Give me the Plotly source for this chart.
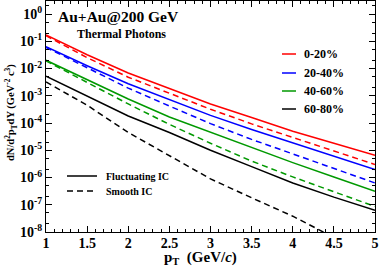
import plotly.graph_objects as go

pt = [1.0, 1.5, 2.0, 2.5, 3.0, 3.5, 4.0, 4.5, 5.0]

red_fluct = [1.7e-1, 3.2e-2, 6.8e-3, 1.8e-3, 5.0e-4, 1.6e-4, 5.0e-5, 1.8e-5, 6.6e-6]
red_smooth = [1.6e-1, 2.5e-2, 4.8e-3, 1.2e-3, 3.2e-4, 9.3e-5, 2.9e-5, 9.3e-6, 3.0e-6]
blue_fluct = [6.3e-2, 1.26e-2, 2.75e-3, 7.1e-4, 1.9e-4, 5.8e-5, 1.86e-5, 6.0e-6, 1.95e-6]
blue_smooth = [6.0e-2, 1.05e-2, 1.9e-3, 4.2e-4, 9.5e-5, 2.5e-5, 7.2e-6, 2.1e-6, 6.3e-7]
green_fluct = [2.0e-2, 3.8e-3, 7.6e-4, 1.66e-4, 4.5e-5, 1.26e-5, 3.5e-6, 1.05e-6, 3.1e-7]
green_smooth = [1.9e-2, 3.0e-3, 5.0e-4, 8.9e-5, 1.8e-5, 4.0e-6, 1.05e-6, 3.0e-7, 8.7e-8]
black_fluct = [5.2e-3, 1.0e-3, 1.8e-4, 4.5e-5, 1.0e-5, 2.5e-6, 6.3e-7, 1.9e-7, 6.3e-8]
black_smooth = [3.2e-3, 4.5e-4, 4.5e-5, 6.3e-6, 8.9e-7, 1.8e-7, 3.8e-8, 6.3e-9, 1.0e-9]

centralities = ["0-20%", "20-40%", "40-60%", "60-80%"]
colors = ["#ff0000", "#0000ff", "#009900", "#000000"]
fluct = [red_fluct, blue_fluct, green_fluct, black_fluct]
smooth = [red_smooth, blue_smooth, green_smooth, black_smooth]

xticks = [1, 1.5, 2, 2.5, 3, 3.5, 4, 4.5, 5]
xticklabels = ["1", "1.5", "2", "2.5", "3", "3.5", "4", "4.5", "5"]
yticks = [1e0, 1e-1, 1e-2, 1e-3, 1e-4, 1e-5, 1e-6, 1e-7, 1e-8]
yticklabels = ["10<sup>0</sup>", "10<sup>-1</sup>", "10<sup>-2</sup>", "10<sup>-3</sup>",
               "10<sup>-4</sup>", "10<sup>-5</sup>", "10<sup>-6</sup>", "10<sup>-7</sup>",
               "10<sup>-8</sup>"]

SERIF = "Liberation Serif"

fig = go.Figure()
for c, f, s, name in zip(colors, fluct, smooth, centralities):
    fig.add_trace(go.Scatter(x=pt, y=f, mode="lines", line=dict(color=c, width=1.5),
                             name=name, showlegend=False))
    fig.add_trace(go.Scatter(x=pt, y=s, mode="lines",
                             line=dict(color=c, width=1.5, dash="6px,4px"),
                             name=name + " smooth", showlegend=False))

axis_common = dict(showline=True, linecolor="black", linewidth=1, mirror="ticks",
                   ticks="inside", tickcolor="black", showgrid=False, zeroline=False,
                   automargin=False,
                   tickfont=dict(family=SERIF, size=14, color="black", weight="bold"))

fig.update_xaxes(range=[1, 5], tickvals=xticks, ticktext=xticklabels, ticklen=6,
                 ticklabelstandoff=-2,
                 minor=dict(dtick=0.1, ticks="inside", ticklen=3, tickcolor="black"),
                 **axis_common)
fig.update_yaxes(type="log", range=[-8, 0.477], tickvals=yticks, ticktext=yticklabels,
                 ticklen=6,
                 minor=dict(ticks="inside", ticklen=3, tickcolor="black"),
                 **axis_common)

def px_x(p):
    return (p - 46) / 329.0

def px_y(p):
    return (232 - p) / 231.0

annotations = []
shapes = []
# centrality legend
leg_y = [54, 73, 91, 109]
for c, name, yy in zip(colors, centralities, leg_y):
    shapes.append(dict(type="line", xref="paper", yref="paper",
                       x0=px_x(282), x1=px_x(296), y0=px_y(yy), y1=px_y(yy),
                       line=dict(color=c, width=1.5)))
    annotations.append(dict(xref="paper", yref="paper", x=px_x(302), y=px_y(yy),
                            text="<b>" + name + "</b>", showarrow=False, xanchor="left",
                            yanchor="middle",
                            font=dict(family=SERIF, size=12, color="black")))
# IC legend
ic_labels = ["Fluctuating IC", "Smooth IC"]
ic_dash = ["solid", "6px,4px"]
ic_y = [176, 191]
for lab, d, yy in zip(ic_labels, ic_dash, ic_y):
    shapes.append(dict(type="line", xref="paper", yref="paper",
                       x0=px_x(67), x1=px_x(97), y0=px_y(yy), y1=px_y(yy),
                       line=dict(color="black", width=1.5, dash=d)))
    annotations.append(dict(xref="paper", yref="paper", x=px_x(104), y=px_y(yy),
                            text="<b>" + lab + "</b>", showarrow=False, xanchor="left",
                            yanchor="middle",
                            font=dict(family=SERIF, size=10, color="black")))

annotations.append(dict(xref="paper", yref="paper", x=px_x(118), y=px_y(17),
                        text="<b>Au+Au@200 GeV</b>", showarrow=False, xanchor="center",
                        yanchor="middle",
                        font=dict(family=SERIF, size=15.5, color="black")))
annotations.append(dict(xref="paper", yref="paper", x=px_x(121), y=px_y(34),
                        text="<b>Thermal Photons</b>", showarrow=False, xanchor="center",
                        yanchor="middle",
                        font=dict(family=SERIF, size=12, color="black")))
annotations.append(dict(xref="paper", yref="paper", x=px_x(11), y=px_y(113),
                        text="<b>dN/d<sup>2</sup>p<sub>T</sub>dY (GeV<sup>-2</sup> c<sup>3</sup>)</b>",
                        textangle=-90, showarrow=False, xanchor="center", yanchor="middle",
                        font=dict(family=SERIF, size=10.5, color="black")))
annotations.append(dict(xref="paper", yref="paper", x=px_x(200), y=px_y(258),
                        text="<b>p<sub>T</sub>  (GeV/<i>c</i>)</b>", showarrow=False,
                        xanchor="center", yanchor="middle",
                        font=dict(family=SERIF, size=15, color="black")))

fig.update_layout(width=382, height=267, margin=dict(l=46, r=7, t=1, b=35),
                  paper_bgcolor="white", plot_bgcolor="white",
                  annotations=annotations, shapes=shapes, showlegend=False)

fig.write_html("out.html", config={"displayModeBar": False},
               post_script="document.body.style.margin='0';document.body.style.overflow='hidden';")
